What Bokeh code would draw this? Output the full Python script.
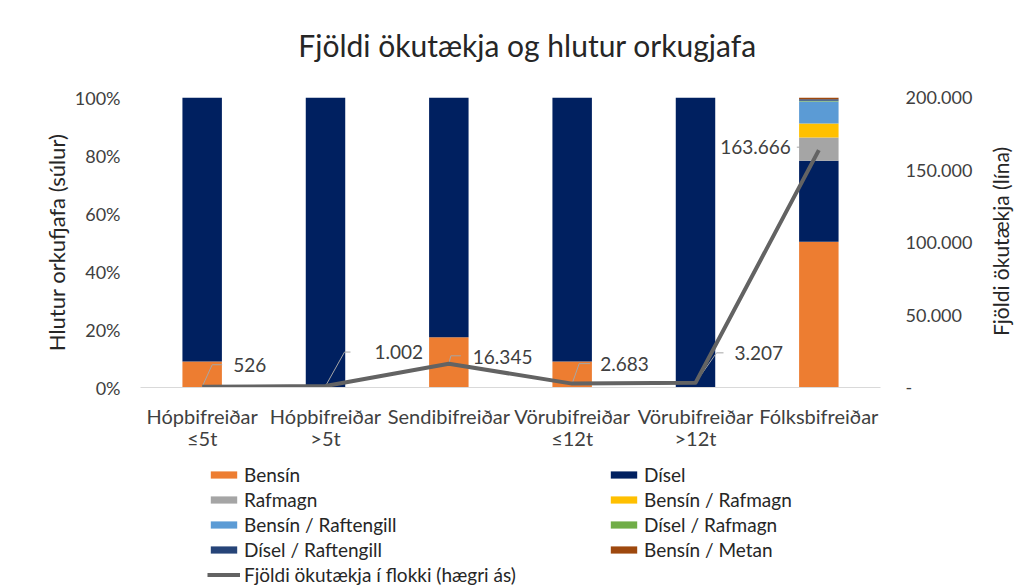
import math
from bokeh.plotting import figure
from bokeh.layouts import column, row
from bokeh.models import (Range1d, LinearAxis, FixedTicker, Legend, LegendItem,
                          ColumnDataSource)
from bokeh.embed import file_html
from bokeh.resources import INLINE
from bokeh.core.properties import value

# ---------------- data ----------------
categories = ["Hópbifreiðar\n≤5t", "Hópbifreiðar\n>5t", "Sendibifreiðar",
              "Vörubifreiðar\n≤12t", "Vörubifreiðar\n>12t", "Fólksbifreiðar"]
fuels = ["Bensín", "Dísel", "Rafmagn", "Bensín / Rafmagn", "Bensín / Raftengill",
         "Dísel / Rafmagn", "Dísel / Raftengill", "Bensín / Metan"]
bensin            = [9.0, 0.0, 17.3, 9.0, 0.0, 50.3]
disel             = [91.0, 100.0, 82.7, 91.0, 100.0, 27.9]
rafmagn           = [0.0, 0.0, 0.0, 0.0, 0.0, 8.0]
bensin_rafmagn    = [0.0, 0.0, 0.0, 0.0, 0.0, 4.8]
bensin_raftengill = [0.0, 0.0, 0.0, 0.0, 0.0, 7.6]
disel_rafmagn     = [0.0, 0.0, 0.0, 0.0, 0.0, 0.3]
disel_raftengill  = [0.0, 0.0, 0.0, 0.0, 0.0, 0.5]
bensin_metan      = [0.0, 0.0, 0.0, 0.0, 0.0, 0.6]
vehicle_counts = [526, 1002, 16345, 2683, 3207, 163666]
pct_ticks = [0, 20, 40, 60, 80, 100]
count_ticks = [0, 50000, 100000, 150000, 200000]
line_name = "Fjöldi ökutækja í flokki (hægri ás)"
title_text = "Fjöldi ökutækja og hlutur orkugjafa"
left_title = "Hlutur orkufjafa (súlur)"
right_title = "Fjöldi ökutækja (lína)"

# ---------------- style / layout ----------------
colors = ["#ED7D31", "#002060", "#A5A5A5", "#FFC000", "#5B9BD5",
          "#70AD47", "#264478", "#9E480E"]
LINE_COLOR = "#636363"
FONT = "Lato"
TXT = "#404040"
DARK = "#262626"
HEAD_H, LEG_H = 80, 130
FW, FH = 740, 290
ML, MR, MT, MB = 140, 100, 17, 70
RW, RMR = 40, 13                 # right-title strip: frame width, right border
CMAX = 200000
# data label offsets in px (dx right, up)
lab_dx = [31, 49, 24, 28, 39, -28]
lab_up = [22, 34, 7, 20, 30, 3]
# leader lines (kink dx, kink up, end dx)
lead = [(10, 22, 20), (19, 34, 25), (2, 8, 12), (7, 20, 18), (21, 30, 28), (-19, 3, -22)]

def fmt(v):
    return f"{v:,}".replace(",", ".")

def strip_fig(h):
    f = figure(frame_width=FW, frame_height=h, x_range=Range1d(ML, ML + FW),
               y_range=Range1d(h, 0), output_backend="svg", toolbar_location=None,
               tools="", title=None, min_border_left=ML, min_border_right=MR,
               min_border_top=0, min_border_bottom=0,
               x_axis_location=None, y_axis_location=None, outline_line_color=None)
    f.grid.visible = False
    return f

# ---------------- header (title) ----------------
head = strip_fig(HEAD_H)
head.text(x=[527], y=[44], text=[title_text], text_font=value(FONT),
          text_font_size="30px", text_color=DARK, text_align="center",
          text_baseline="middle")

# ---------------- main chart ----------------
xs = list(range(len(categories)))
data = {"x": xs, "count": vehicle_counts, "label": [fmt(v) for v in vehicle_counts]}
for name, vals in zip(fuels, [bensin, disel, rafmagn, bensin_rafmagn, bensin_raftengill,
                               disel_rafmagn, disel_raftengill, bensin_metan]):
    data[name] = vals
src = ColumnDataSource(data)

p = figure(frame_width=FW, frame_height=FH, x_range=Range1d(-0.5, 5.5),
           y_range=Range1d(0, 100), output_backend="svg", toolbar_location=None,
           min_border_left=ML, min_border_right=MR, min_border_top=MT,
           min_border_bottom=MB, outline_line_color=None, tools="", title=None)
p.extra_y_ranges = {"count": Range1d(0, CMAX)}
p.xgrid.visible = False
p.ygrid.visible = False

bars = p.vbar_stack(fuels, x="x", width=0.32, color=colors, line_color=None, source=src)

pxx = FW / 6.0
pxy = FH / CMAX
lxs, lys = [], []
for i, (kx, ku, ex) in enumerate(lead):
    x0, y0 = xs[i], vehicle_counts[i]
    lxs.append([x0, x0 + kx / pxx, x0 + ex / pxx])
    lys.append([y0, y0 + ku / pxy, y0 + ku / pxy])
p.multi_line(lxs, lys, line_color="#A6A6A6", line_width=1, y_range_name="count")

p.line("x", "count", source=src, y_range_name="count", line_color=LINE_COLOR,
       line_width=4, line_join="round")

n = len(xs)
lsrc = ColumnDataSource(dict(x=xs[:n-1], y=vehicle_counts[:n-1], t=data["label"][:n-1],
                             xo=lab_dx[:n-1], yo=[-u for u in lab_up[:n-1]]))
p.text("x", "y", text="t", x_offset="xo", y_offset="yo", source=lsrc, y_range_name="count",
       text_font=value(FONT), text_font_size="19px", text_color=TXT,
       text_align="left", text_baseline="middle")
lsrc2 = ColumnDataSource(dict(x=xs[n-1:], y=vehicle_counts[n-1:], t=data["label"][n-1:],
                              xo=lab_dx[n-1:], yo=[-u for u in lab_up[n-1:]]))
p.text("x", "y", text="t", x_offset="xo", y_offset="yo", source=lsrc2, y_range_name="count",
       text_font=value(FONT), text_font_size="19px", text_color=TXT,
       text_align="right", text_baseline="middle")

xa = p.xaxis[0]
xa.ticker = FixedTicker(ticks=xs)
xa.major_label_overrides = {i: c for i, c in enumerate(categories)}
xa.axis_line_color = "#D9D9D9"
xa.major_tick_line_color = None
xa.minor_tick_line_color = None
xa.major_label_standoff = 10
xa.major_label_text_font = FONT
xa.major_label_text_font_size = "20px"
xa.major_label_text_color = TXT
xa.major_label_text_line_height = 0.95

ya = p.yaxis[0]
ya.ticker = FixedTicker(ticks=pct_ticks)
ya.major_label_overrides = {t: f"{t}%" for t in pct_ticks}
ya.axis_line_color = None
ya.major_tick_line_color = None
ya.minor_tick_line_color = None
ya.major_label_standoff = 14
ya.major_label_text_font = FONT
ya.major_label_text_font_size = "18px"
ya.major_label_text_color = TXT
ya.axis_label = left_title
ya.axis_label_text_font = FONT
ya.axis_label_text_font_style = "normal"
ya.axis_label_text_font_size = "22px"
ya.axis_label_text_color = DARK
ya.axis_label_standoff = 2

ra = LinearAxis(y_range_name="count", ticker=FixedTicker(ticks=count_ticks))
ra.major_label_overrides = {t: ("-" if t == 0 else fmt(t)) for t in count_ticks}
ra.axis_line_color = None
ra.major_tick_line_color = None
ra.minor_tick_line_color = None
ra.major_label_standoff = 19
ra.major_label_text_font = FONT
ra.major_label_text_font_size = "18px"
ra.major_label_text_color = TXT
p.add_layout(ra, "right")

# ---------------- right-axis title strip (reads bottom-to-top) ----------------
rx0 = ML + FW + MR
top_y = HEAD_H + MT
rfig = figure(frame_width=RW, frame_height=FH, x_range=Range1d(rx0, rx0 + RW),
              y_range=Range1d(top_y + FH, top_y), output_backend="svg",
              toolbar_location=None, tools="", title=None,
              min_border_left=0, min_border_right=RMR, min_border_top=MT,
              min_border_bottom=MB, x_axis_location=None, y_axis_location=None,
              outline_line_color=None)
rfig.grid.visible = False
rfig.text(x=[rx0 + RW / 2], y=[top_y + FH / 2 - 1], text=[right_title], angle=math.pi / 2,
          text_font=value(FONT), text_font_size="21px", text_color=DARK,
          text_align="center", text_baseline="middle")

# ---------------- legend strip ----------------
leg = strip_fig(LEG_H)
key_r = [leg.vbar(x=[ML], top=[0], bottom=[0], width=0, color=c, line_color=None)
         for c in colors]
key_line = leg.line(x=[ML, ML], y=[0, 0], line_color=LINE_COLOR, line_width=4)

ROW, GAP, ROWS_TOP = 23, 2, 5.5
col1 = [(fuels[i], key_r[i]) for i in (0, 2, 4, 6)] + [(line_name, key_line)]
col2 = [(fuels[i], key_r[i]) for i in (1, 3, 5, 7)]

def mk_legend(entries, x_left):
    h = len(entries) * ROW + (len(entries) - 1) * GAP
    return Legend(items=[LegendItem(label=t, renderers=[r]) for t, r in entries],
                  location=(x_left - ML, LEG_H - ROWS_TOP - h), orientation="vertical",
                  glyph_width=33, glyph_height=9, label_height=ROW, spacing=GAP,
                  label_standoff=4, padding=0, margin=0,
                  border_line_color=None, background_fill_alpha=0,
                  label_text_font=FONT, label_text_font_size="19px",
                  label_text_color=DARK)

leg.add_layout(mk_legend(col1, 207))
leg.add_layout(mk_legend(col2, 607))

layout = column(head, row(p, rfig, spacing=0), leg, spacing=0)
open("out.html", "w").write(file_html(layout, INLINE))
